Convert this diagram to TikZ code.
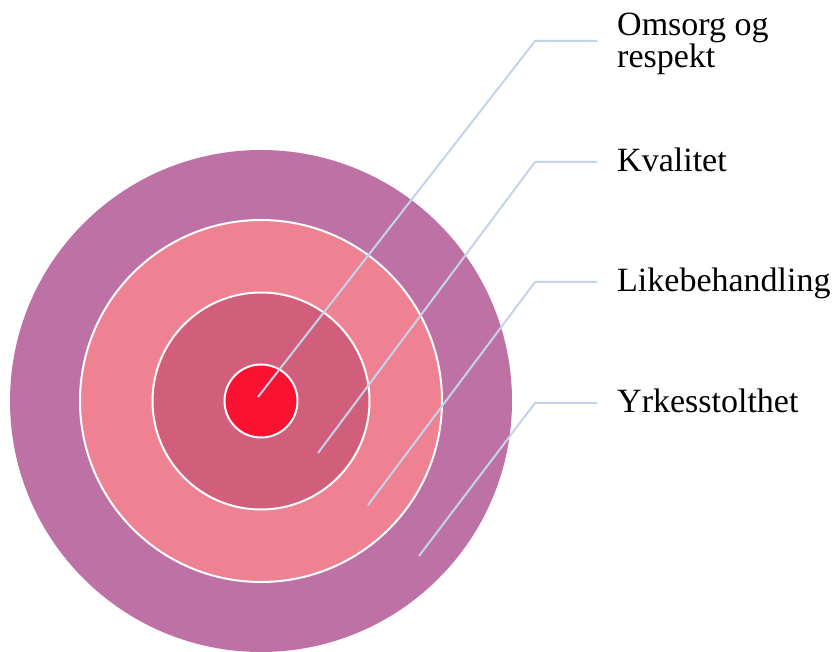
\documentclass[tikz,border=0pt]{standalone}
\usepackage{fontspec}
\setmainfont{Liberation Serif}
\usepackage{tikz}
\usetikzlibrary{positioning}
\definecolor{ringfour}{HTML}{BE71A5}
\definecolor{ringthree}{HTML}{EE8293}
\definecolor{ringtwo}{HTML}{D15E7B}
\definecolor{ringone}{HTML}{FB1230}
\definecolor{leadblue}{HTML}{C3D4EA}

\begin{document}
\begin{tikzpicture}[x=1pt,y=-1pt,
  ring/.style={circle,draw=white,line width=2pt,inner sep=0pt},
  leader/.style={draw=leadblue,line width=2pt},
  lbl/.style={anchor=base west,inner xsep=20pt,inner ysep=0pt,align=left,font=\fontsize{34}{32}\selectfont}]
  \useasboundingbox (0,0) rectangle (836,652);
  %rings
  \node[ring,fill=ringfour,draw=none,minimum size=502pt] (yrke) at (261,401) {};
  \node[ring,fill=ringthree,minimum size=362pt] (likeb) at (yrke.center) {};
  \node[ring,fill=ringtwo,minimum size=217pt] (kval) at (yrke.center) {};
  \node[ring,fill=ringone,minimum size=73pt] (omsorg) at (yrke.center) {};

  %labels
  \node[lbl] (omsorg-txt) at (597,68) {Omsorg og\\respekt};
  \node[lbl] (kval-txt) at (597,172) {Kvalitet};
  \node[lbl] (likeb-txt) at (597,292) {Likebehandling};
  \node[lbl] (yrke-txt) at (597,413) {Yrkesstolthet};

  %leaders
  \coordinate (omsorg-end) at (258,397);
  \coordinate (omsorg-bend) at (535,41);
  \coordinate (kval-end) at (318,453);
  \coordinate (kval-bend) at (535,162);
  \coordinate (likeb-end) at (368,505);
  \coordinate (likeb-bend) at (535,282);
  \coordinate (yrke-end) at (419,556);
  \coordinate (yrke-bend) at (535,403);
  \draw[leader] (omsorg-end) -- (omsorg-bend) -- (omsorg-bend -| omsorg-txt.west);
  \draw[leader] (kval-end) -- (kval-bend) -- (kval-bend -| kval-txt.west);
  \draw[leader] (likeb-end) -- (likeb-bend) -- (likeb-bend -| likeb-txt.west);
  \draw[leader] (yrke-end) -- (yrke-bend) -- (yrke-bend -| yrke-txt.west);
\end{tikzpicture}
\end{document}
